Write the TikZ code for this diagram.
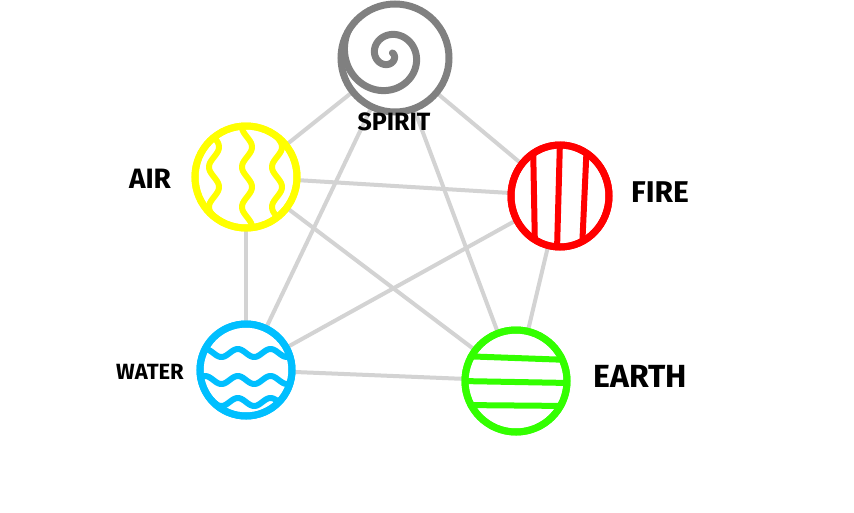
\documentclass[tikz,border=0pt]{standalone}
\usepackage{fontspec}
\setmainfont{Fira Sans}
\begin{document}
\begin{tikzpicture}[x=1pt,y=-1pt,
  conn/.style={draw=linkgray,line width=4pt},
  ball/.style={line width=7pt,fill=white},
  rim/.style={line width=7pt},
  stripe/.style={line width=6pt,line cap=round,line join=round},
  lbl/.style={font=\bfseries, text=black, inner sep=0pt}]
\definecolor{linkgray}{RGB}{211,211,211}
\definecolor{spiritc}{RGB}{128,128,128}
\definecolor{airc}{RGB}{255,255,0}
\definecolor{firec}{RGB}{255,0,0}
\definecolor{waterc}{RGB}{0,191,255}
\definecolor{earthc}{RGB}{51,255,0}
\useasboundingbox (0,0) rectangle (854,512);
\fill[white] (0,0) rectangle (854,512);
% centers
\coordinate (spirit) at (395,58);
\coordinate (air) at (246,177);
\coordinate (fire) at (560,196);
\coordinate (water) at (246,370);
\coordinate (earth) at (516,381);
% connectors
\draw[conn] (spirit) -- (air);
\draw[conn] (spirit) -- (fire);
\draw[conn] (spirit) -- (water);
\draw[conn] (spirit) -- (earth);
\draw[conn] (air) -- (fire);
\draw[conn] (air) -- (water);
\draw[conn] (air) -- (earth);
\draw[conn] (fire) -- (water);
\draw[conn] (fire) -- (earth);
\draw[conn] (water) -- (earth);
% spirit
\draw[ball,draw=spiritc] (spirit) circle[radius=54];
\begin{scope}
\clip (spirit) circle[radius=55];
\draw[stripe,line width=7pt,draw=spiritc] plot[domain=2.6:14.0,samples=300,smooth] ({389-(1.0*\x+0.2*\x*\x)*cos(\x r)},{55-(1.0*\x+0.2*\x*\x)*sin(\x r)});
\end{scope}
% air
\draw[ball,draw=airc] (air) circle[radius=51];
\begin{scope}
\clip (air) circle[radius=50];
\foreach \xx in {214,247,277}
  \draw[stripe,draw=airc] plot[domain=-52:52,samples=80,smooth] ({\xx+5*sin(\x*9)},{177+\x});
\end{scope}
\draw[rim,draw=airc] (air) circle[radius=51];
% fire
\draw[ball,draw=firec] (fire) ellipse[x radius=49,y radius=51];
\begin{scope}
\clip (fire) ellipse[x radius=48,y radius=50];
\draw[stripe,draw=firec] (533,140) -- (535,250);
\draw[stripe,draw=firec] (560,140) -- (557,250);
\draw[stripe,draw=firec] (587,140) -- (582,250);
\end{scope}
\draw[rim,draw=firec] (fire) ellipse[x radius=49,y radius=51];
% water
\draw[ball,draw=waterc] (water) circle[radius=46];
\begin{scope}
\clip (water) circle[radius=45];
\foreach \yy in {353,380,402}
  \draw[stripe,draw=waterc] plot[domain=-50:50,samples=80,smooth] ({246+\x},{\yy+4*sin(\x*11)});
\end{scope}
\draw[rim,draw=waterc] (water) circle[radius=46];
% earth
\draw[ball,draw=earthc] (earth) circle[radius=51];
\begin{scope}
\clip (earth) circle[radius=50];
\draw[stripe,draw=earthc] (460,356) -- (570,360);
\draw[stripe,draw=earthc] (460,381) -- (570,383);
\draw[stripe,draw=earthc] (460,405) -- (570,406);
\end{scope}
\draw[rim,draw=earthc] (earth) circle[radius=51];
% labels
\node[lbl,font=\bfseries\fontsize{25}{25}\selectfont] (tspirit) at (394,122) {SPIRIT};
\node[lbl,font=\bfseries\fontsize{28}{28}\selectfont] (tair) at (150,179) {AIR};
\node[lbl,font=\bfseries\fontsize{30}{30}\selectfont] (tfire) at (660,192) {FIRE};
\node[lbl,font=\bfseries\fontsize{22}{22}\selectfont] (twater) at (150,372) {WATER};
\node[lbl,font=\bfseries\fontsize{32}{32}\selectfont] (tearth) at (640,376) {EARTH};
\end{tikzpicture}
\end{document}
